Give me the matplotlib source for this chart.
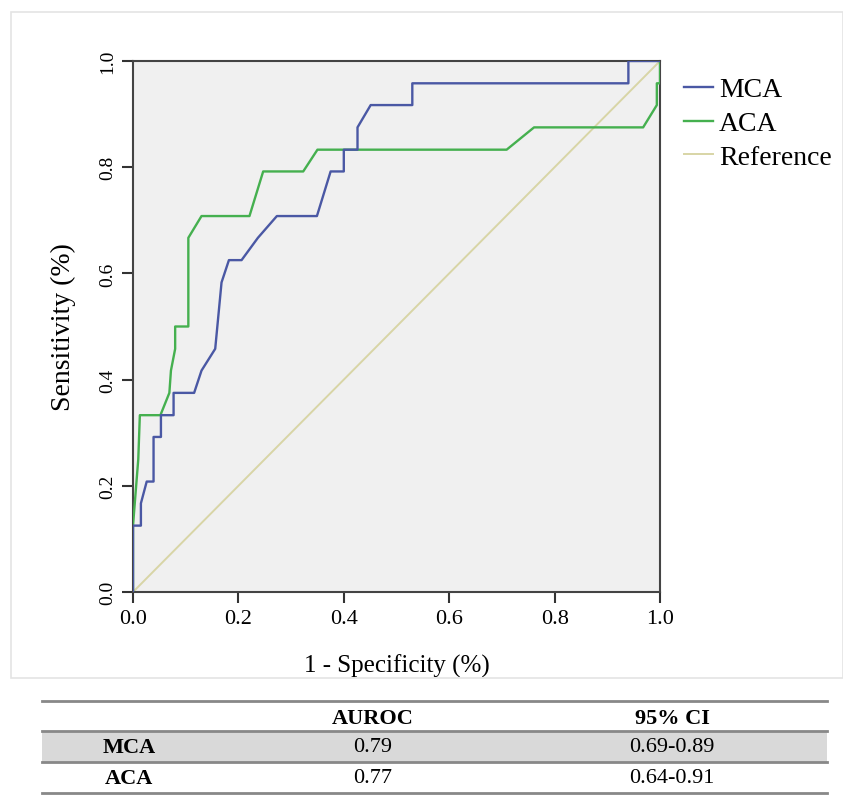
#ROC curves of MCA and ACA with AUROC table
import matplotlib
matplotlib.use('Agg')
import matplotlib.pyplot as plt
from matplotlib.patches import Rectangle
from matplotlib.lines import Line2D

plt.rcParams['font.family'] = ['Liberation Serif', 'DejaVu Serif']

mca_fpr = [0, 0, 0.015, 0.015, 0.026, 0.039, 0.039, 0.053, 0.053, 0.077, 0.077, 0.116, 0.130,
           0.156, 0.168, 0.182, 0.206, 0.237, 0.273, 0.349, 0.375, 0.400, 0.400, 0.426, 0.426,
           0.451, 0.530, 0.530, 0.940, 0.940, 1.0]
mca_tpr = [0, 0.125, 0.125, 0.167, 0.208, 0.208, 0.292, 0.292, 0.333, 0.333, 0.375, 0.375, 0.417,
           0.458, 0.583, 0.625, 0.625, 0.667, 0.708, 0.708, 0.792, 0.792, 0.833, 0.833, 0.875,
           0.917, 0.917, 0.958, 0.958, 1.0, 1.0]
aca_fpr = [0, 0, 0.010, 0.013, 0.052, 0.069, 0.072, 0.080, 0.080, 0.105, 0.105, 0.130, 0.221,
           0.247, 0.323, 0.350, 0.709, 0.761, 0.968, 0.994, 0.994, 1.0, 1.0]
aca_tpr = [0, 0.125, 0.25, 0.333, 0.333, 0.375, 0.417, 0.458, 0.5, 0.5, 0.667, 0.708, 0.708,
           0.792, 0.792, 0.833, 0.833, 0.875, 0.875, 0.917, 0.958, 0.958, 1.0]
ref_line = [0, 1]

#table
tab_header = ['', 'AUROC', '95% CI']
tab_rows = ['MCA', 'ACA']
tab_auroc = ['0.79', '0.77']
tab_ci = ['0.69-0.89', '0.64-0.91']

W, H = 843, 804
fig = plt.figure(figsize=(W / 100, H / 100), dpi=100)

def fx(px):
    return px / W

def fy(py):
    return 1 - py / H

#light frame around the chart part
fig.patches.append(Rectangle((fx(11), fy(679)), fx(843) - fx(11), fy(13) - fy(679),
                             transform=fig.transFigure, fill=False, edgecolor='#e4e4e4', lw=1.2))

ax = fig.add_axes([fx(133), fy(593), fx(660) - fx(133), fy(62) - fy(593)])
ax.set_facecolor('#f0f0f0')
ax.plot(ref_line, ref_line, color='#d8d5a6', lw=1.4, label='Reference', zorder=2)
ax.plot(aca_fpr, aca_tpr, color='#45b04f', lw=1.7, label='ACA', zorder=3)
ax.plot(mca_fpr, mca_tpr, color='#4a58a4', lw=1.7, label='MCA', zorder=4)
ax.set_xlim(0, 1)
ax.set_ylim(0, 1)
ticks = [0.0, 0.2, 0.4, 0.6, 0.8, 1.0]
ax.set_xticks(ticks)
ax.set_yticks(ticks)
ax.set_xticklabels(['%.1f' % t for t in ticks])
ax.set_yticklabels(['%.1f' % t for t in ticks], rotation=90, va='center')
ax.tick_params(direction='out', length=8, width=1.5, color='#333333', pad=4)
ax.tick_params(axis='x', labelsize=16)
ax.tick_params(axis='y', labelsize=14)
for s in ax.spines.values():
    s.set_color('#444444')
    s.set_linewidth(1.5)
ax.set_xlabel('1 - Specificity (%)', fontsize=18, labelpad=19)
ax.set_ylabel('Sensitivity (%)', fontsize=20, labelpad=17)

h, l = ax.get_legend_handles_labels()
order = [2, 1, 0]
ax.legend([h[i] for i in order], [l[i] for i in order], loc='upper left',
          bbox_to_anchor=(fx(684), fy(78)), bbox_transform=fig.transFigure,
          frameon=False, fontsize=20, handlelength=1.05, handletextpad=0.2,
          labelspacing=0.3, borderaxespad=0, borderpad=0)

#table below the chart
x0, x1 = fx(42), fx(827)
fig.patches.append(Rectangle((x0, fy(763)), x1 - x0, fy(732) - fy(763),
                             transform=fig.transFigure, facecolor='#d9d9d9', edgecolor='none'))
for py in [702, 732, 763, 794]:
    fig.lines.append(Line2D([x0, x1], [fy(py), fy(py)], transform=fig.transFigure,
                            color='#888888', lw=2))
col_x = [fx(129), fx(373), fx(672)]
fig.text(col_x[1], fy(719), tab_header[1], ha='center', va='center', fontsize=16, weight='bold')
fig.text(col_x[2], fy(719), tab_header[2], ha='center', va='center', fontsize=16, weight='bold')
row_y = [fy(748), fy(779)]
for i in range(len(tab_rows)):
    fig.text(col_x[0], row_y[i], tab_rows[i], ha='center', va='center', fontsize=16, weight='bold')
    fig.text(col_x[1], row_y[i], tab_auroc[i], ha='center', va='center', fontsize=16)
    fig.text(col_x[2], row_y[i], tab_ci[i], ha='center', va='center', fontsize=16)

plt.savefig('out.png', dpi=100)
